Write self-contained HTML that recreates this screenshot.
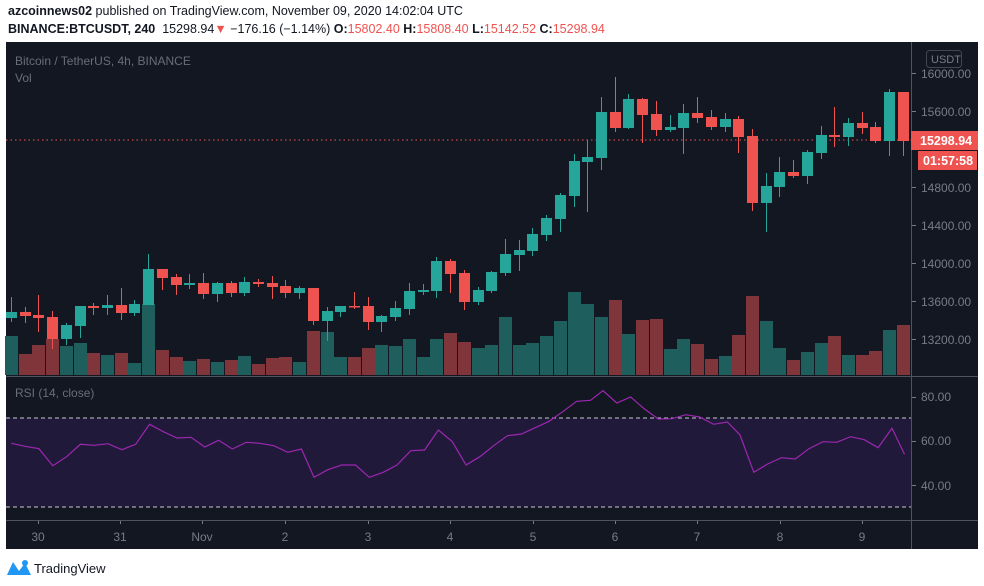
<!DOCTYPE html>
<html><head><meta charset="utf-8"><style>
body{margin:0;width:984px;height:586px;background:#fff;overflow:hidden;font-family:"Liberation Sans",sans-serif;position:relative}
.h{position:absolute;left:8px;font-size:12.5px;color:#131722;white-space:nowrap}
.r{color:#ef5350}
svg{position:absolute;left:0;top:0}
</style></head><body>
<div class="h" style="top:4px"><b>azcoinnews02</b> published on TradingView.com, November 09, 2020 14:02:04 UTC</div>
<div class="h" style="top:22px"><b>BINANCE:BTCUSDT, 240</b>&nbsp; 15298.94<span class="r">▼</span> −176.16 (−1.14%) <b>O:</b><span class="r">15802.40</span> <b>H:</b><span class="r">15808.40</span> <b>L:</b><span class="r">15142.52</span> <b>C:</b><span class="r">15298.94</span></div>
<svg width="984" height="586" xmlns="http://www.w3.org/2000/svg" font-family="Liberation Sans, sans-serif">
<rect x="6" y="42" width="972" height="507" fill="#131722"/>
<rect x="6" y="418" width="906" height="89" fill="#21193a"/>
<line x1="6" y1="418" x2="912" y2="418" stroke="#c8c8d0" stroke-dasharray="4,3"/>
<line x1="6" y1="507" x2="912" y2="507" stroke="#c8c8d0" stroke-dasharray="4,3"/>
<line x1="911.5" y1="42" x2="911.5" y2="549" stroke="#50535e"/>
<line x1="6" y1="376.5" x2="978" y2="376.5" stroke="#50535e"/>
<line x1="6" y1="520.5" x2="978" y2="520.5" stroke="#50535e"/>
<text x="15" y="65" fill="#6a6d78" font-size="12">Bitcoin / TetherUS, 4h, BINANCE</text>
<text x="15" y="82" fill="#6a6d78" font-size="12">Vol</text>
<text x="15" y="397" fill="#6a6d78" font-size="12">RSI (14, close)</text>
<g fill="#1e5e5c">
<rect x="5" y="336" width="13" height="39"/><rect x="60" y="346" width="13" height="29"/><rect x="74" y="343" width="13" height="32"/><rect x="101" y="355" width="13" height="20"/><rect x="128" y="363" width="13" height="12"/><rect x="142" y="304" width="13" height="71"/><rect x="183" y="361" width="13" height="14"/><rect x="211" y="362" width="13" height="13"/><rect x="238" y="356" width="13" height="19"/><rect x="293" y="362" width="13" height="13"/><rect x="321" y="332" width="13" height="43"/><rect x="334" y="357" width="13" height="18"/><rect x="375" y="345" width="13" height="30"/><rect x="389" y="346" width="13" height="29"/><rect x="403" y="339" width="13" height="36"/><rect x="417" y="357" width="13" height="18"/><rect x="430" y="339" width="13" height="36"/><rect x="472" y="348" width="13" height="27"/><rect x="485" y="345" width="13" height="30"/><rect x="499" y="317" width="13" height="58"/><rect x="513" y="345" width="13" height="30"/><rect x="526" y="343" width="13" height="32"/><rect x="540" y="336" width="13" height="39"/><rect x="554" y="321" width="13" height="54"/><rect x="568" y="292" width="13" height="83"/><rect x="581" y="304" width="13" height="71"/><rect x="595" y="317" width="13" height="58"/><rect x="622" y="334" width="13" height="41"/><rect x="664" y="349" width="13" height="26"/><rect x="677" y="339" width="13" height="36"/><rect x="719" y="356" width="13" height="19"/><rect x="760" y="321" width="13" height="54"/><rect x="773" y="348" width="13" height="27"/><rect x="801" y="352" width="13" height="23"/><rect x="815" y="343" width="13" height="32"/><rect x="842" y="355" width="13" height="20"/><rect x="883" y="330" width="13" height="45"/>
</g>
<g fill="#7f3539">
<rect x="19" y="354" width="13" height="21"/><rect x="32" y="345" width="13" height="30"/><rect x="46" y="339" width="13" height="36"/><rect x="87" y="353" width="13" height="22"/><rect x="115" y="353" width="13" height="22"/><rect x="156" y="350" width="13" height="25"/><rect x="170" y="357" width="13" height="18"/><rect x="197" y="359" width="13" height="16"/><rect x="225" y="360" width="13" height="15"/><rect x="252" y="364" width="13" height="11"/><rect x="266" y="358" width="13" height="17"/><rect x="279" y="357" width="13" height="18"/><rect x="307" y="331" width="13" height="44"/><rect x="348" y="357" width="13" height="18"/><rect x="362" y="348" width="13" height="27"/><rect x="444" y="333" width="13" height="42"/><rect x="458" y="342" width="13" height="33"/><rect x="609" y="300" width="13" height="75"/><rect x="636" y="320" width="13" height="55"/><rect x="650" y="319" width="13" height="56"/><rect x="691" y="344" width="13" height="31"/><rect x="705" y="359" width="13" height="16"/><rect x="732" y="335" width="13" height="40"/><rect x="746" y="296" width="13" height="79"/><rect x="787" y="360" width="13" height="15"/><rect x="828" y="336" width="13" height="39"/><rect x="856" y="355" width="13" height="20"/><rect x="869" y="351" width="13" height="24"/><rect x="897" y="325" width="13" height="50"/>
</g>
<line x1="6" y1="140" x2="912" y2="140" stroke="#ef5350" stroke-dasharray="1.5,3"/>
<path stroke="#26a69a" stroke-width="1" fill="none" d="M11.5 297V322 M66.5 323V345 M80.5 306V338 M107.5 295V315 M134.5 300V316 M148.5 254V305 M189.5 274V289 M217.5 282V302 M244.5 277V296 M299.5 286V299 M327.5 307V341 M340.5 306V317 M381.5 315V332 M395.5 301V321 M409.5 283V315 M423.5 284V295 M436.5 257V298 M478.5 287V305 M491.5 271V293 M505.5 239V276 M519.5 240V271 M532.5 228V256 M546.5 215V241 M560.5 193V232 M574.5 154V207 M587.5 140V212 M601.5 97V170 M628.5 94V129 M670.5 115V132 M683.5 104V154 M725.5 113V132 M766.5 173V232 M779.5 157V197 M807.5 150V184 M821.5 126V159 M848.5 118V146 M889.5 89V156"/>
<path stroke="#ef5350" stroke-width="1" fill="none" d="M25.5 307V323 M38.5 295V332 M52.5 311V349 M93.5 303V315 M121.5 288V320 M162.5 269V290 M176.5 274V295 M203.5 273V299 M231.5 281V297 M258.5 279V287 M272.5 276V299 M285.5 280V298 M313.5 288V325 M354.5 292V309 M368.5 297V330 M450.5 259V293 M464.5 270V310 M615.5 77V132 M642.5 98V143 M656.5 101V136 M697.5 97V123 M711.5 110V130 M738.5 116V153 M752.5 129V211 M793.5 160V178 M834.5 107V147 M862.5 112V134 M875.5 122V143 M903.5 92V156"/>
<g fill="#26a69a">
<rect x="6" y="312" width="11" height="6"/><rect x="61" y="325" width="11" height="14"/><rect x="75" y="306" width="11" height="20"/><rect x="102" y="305" width="11" height="3"/><rect x="129" y="304" width="11" height="9"/><rect x="143" y="269" width="11" height="36"/><rect x="184" y="283" width="11" height="2"/><rect x="212" y="283" width="11" height="11"/><rect x="239" y="282" width="11" height="11"/><rect x="294" y="288" width="11" height="5"/><rect x="322" y="311" width="11" height="10"/><rect x="335" y="306" width="11" height="6"/><rect x="376" y="316" width="11" height="6"/><rect x="390" y="308" width="11" height="9"/><rect x="404" y="291" width="11" height="18"/><rect x="418" y="290" width="11" height="2"/><rect x="431" y="261" width="11" height="30"/><rect x="473" y="290" width="11" height="12"/><rect x="486" y="272" width="11" height="19"/><rect x="500" y="254" width="11" height="19"/><rect x="514" y="250" width="11" height="5"/><rect x="527" y="234" width="11" height="17"/><rect x="541" y="218" width="11" height="17"/><rect x="555" y="195" width="11" height="24"/><rect x="569" y="161" width="11" height="35"/><rect x="582" y="157" width="11" height="5"/><rect x="596" y="112" width="11" height="46"/><rect x="623" y="99" width="11" height="29"/><rect x="665" y="127" width="11" height="3"/><rect x="678" y="113" width="11" height="15"/><rect x="720" y="119" width="11" height="8"/><rect x="761" y="186" width="11" height="17"/><rect x="774" y="172" width="11" height="15"/><rect x="802" y="152" width="11" height="24"/><rect x="816" y="135" width="11" height="18"/><rect x="843" y="123" width="11" height="14"/><rect x="884" y="92" width="11" height="49"/>
</g>
<g fill="#ef5350">
<rect x="20" y="312" width="11" height="4"/><rect x="33" y="315" width="11" height="3"/><rect x="47" y="317" width="11" height="22"/><rect x="88" y="306" width="11" height="2"/><rect x="116" y="305" width="11" height="8"/><rect x="157" y="269" width="11" height="9"/><rect x="171" y="277" width="11" height="8"/><rect x="198" y="283" width="11" height="11"/><rect x="226" y="283" width="11" height="10"/><rect x="253" y="282" width="11" height="2"/><rect x="267" y="283" width="11" height="4"/><rect x="280" y="286" width="11" height="7"/><rect x="308" y="288" width="11" height="33"/><rect x="349" y="306" width="11" height="1.5"/><rect x="363" y="306" width="11" height="16"/><rect x="445" y="261" width="11" height="13"/><rect x="459" y="273" width="11" height="29"/><rect x="610" y="112" width="11" height="16"/><rect x="637" y="99" width="11" height="16"/><rect x="651" y="114" width="11" height="16"/><rect x="692" y="113" width="11" height="5"/><rect x="706" y="117" width="11" height="10"/><rect x="733" y="119" width="11" height="18"/><rect x="747" y="136" width="11" height="67"/><rect x="788" y="172" width="11" height="4"/><rect x="829" y="135" width="11" height="2"/><rect x="857" y="123" width="11" height="5"/><rect x="870" y="127" width="11" height="14"/><rect x="898" y="92" width="11" height="49"/>
</g>
<polyline fill="none" stroke="#9c27b0" stroke-width="1.2" points="11.3,443.3 25.1,446.3 38.9,448.7 52.8,465.7 66.6,456.7 80.4,444.3 94.2,445.3 108,443.7 121.9,449.7 135.7,444.3 149.5,424.3 163.3,431.7 177.1,438 191,437.3 204.8,447 218.6,440.3 232.4,449 246.2,442.3 260,443.3 273.9,445.7 287.7,452.3 301.5,449 314,477.3 327.9,469.7 341.7,465 355.5,465 369.3,477.3 383.2,472.3 397,465 410.8,450.7 424.6,450 438.4,430 452.3,441.7 466.1,465 479.9,456.7 493.7,445.7 507.5,435.7 521.4,434 535.2,427.7 549,421.3 562.8,411.7 576.6,401.3 590.5,400.3 603,390.7 616.8,403 630.7,397 644.5,409 658.3,419 672.1,418.7 685.9,414.7 699.7,417 713.6,424.3 727.4,422 740,435 753.8,472.3 767.6,464 781.4,457.7 795.2,459 809,448.7 822.9,441.7 836.7,442.3 850.5,436.7 864.3,439.7 878.1,447.7 892,428.3 904.5,454.3"/>
<g fill="#787b86" font-size="12">
<text x="921" y="78">16000.00</text><text x="921" y="116">15600.00</text><text x="921" y="192">14800.00</text><text x="921" y="230">14400.00</text><text x="921" y="268">14000.00</text><text x="921" y="306">13600.00</text><text x="921" y="344">13200.00</text>
<text x="921" y="401">80.00</text><text x="921" y="445">60.00</text><text x="921" y="490">40.00</text>
</g>
<g stroke="#787b86"><path d="M912 73.5h4M912 111.5h4M912 187.5h4M912 225.5h4M912 263.5h4M912 301.5h4M912 339.5h4M912 397.5h4M912 441.5h4M912 485.5h4"/></g>
<rect x="926.5" y="50.5" width="35" height="17" rx="3" fill="none" stroke="#434651"/>
<text x="931" y="63" fill="#787b86" font-size="11">USDT</text>
<rect x="911" y="131" width="67" height="19" fill="#ef5350"/>
<text x="920" y="145" fill="#fff" font-size="12.5" font-weight="bold">15298.94</text>
<rect x="918" y="151" width="59" height="19" fill="#ef5350"/>
<text x="923" y="165" fill="#fff" font-size="12.5" font-weight="bold">01:57:58</text>
<g fill="#787b86" font-size="12" text-anchor="middle">
<text x="38" y="541">30</text><text x="120" y="541">31</text><text x="202" y="541">Nov</text><text x="285" y="541">2</text><text x="368" y="541">3</text><text x="450" y="541">4</text><text x="533" y="541">5</text><text x="615" y="541">6</text><text x="697" y="541">7</text><text x="780" y="541">8</text><text x="862" y="541">9</text>
</g>
<g stroke="#787b86"><path d="M38.5 521v3M120.5 521v3M202.5 521v3M285.5 521v3M368.5 521v3M450.5 521v3M533.5 521v3M615.5 521v3M697.5 521v3M780.5 521v3M862.5 521v3"/></g>
<path d="M7 575 L13 562 L19 571 L25 563 L31 575 Z" fill="#2196f3"/>
<circle cx="25" cy="563" r="3" fill="#2196f3"/>
<text x="34" y="573" fill="#131722" font-size="13">TradingView</text>
</svg>
</body></html>
